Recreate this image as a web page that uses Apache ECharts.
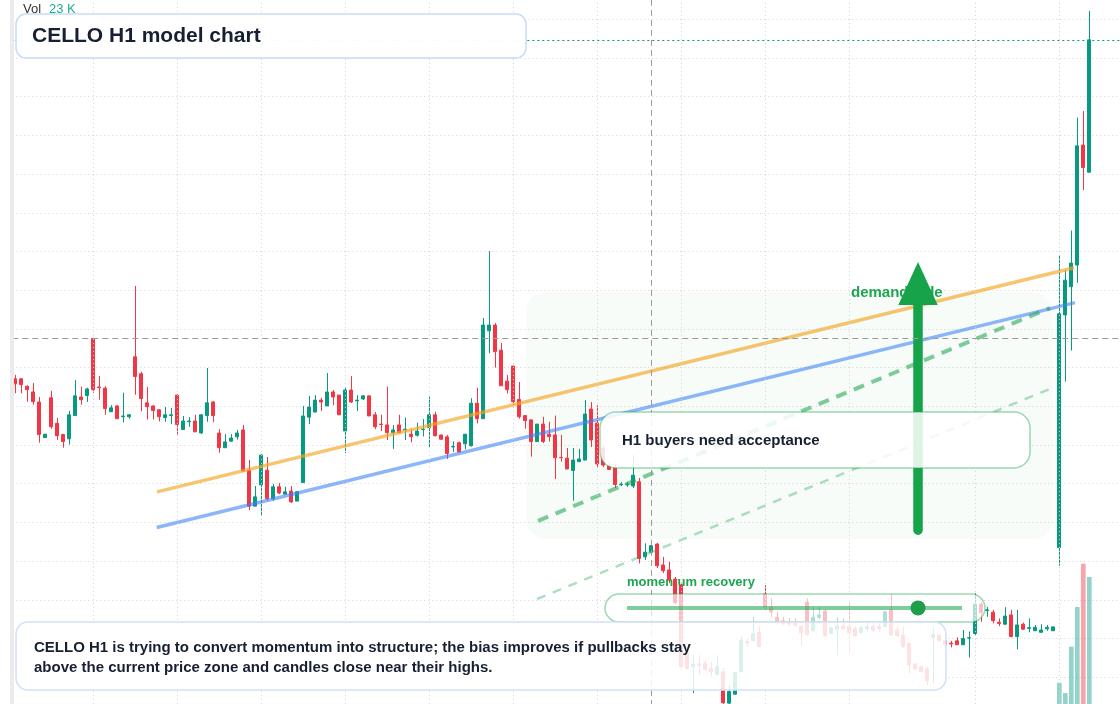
<!DOCTYPE html>
<html><head><meta charset="utf-8">
<script src="https://cdn.jsdelivr.net/npm/echarts@6/dist/echarts.min.js"></script>
<style>html,body{margin:0;padding:0;background:#fff}#chart{width:1120px;height:704px}</style>
</head><body><div id="chart"></div>
<script>
// ---- data (H1 bars) ----
const opens = [
630.71,630.71,630.52,630.37,630.11,629.19,630.22,629.56,629.27,629.16,
629.76,630.24,630.28,631.75,630.50,630.47,629.86,630.01,629.73,629.73,
631.28,630.84,630.09,630.01,629.91,629.71,629.76,630.29,629.40,629.60,
629.62,629.31,629.76,630.11,629.31,628.93,629.10,629.21,629.39,628.35,
627.42,627.97,628.35,627.61,627.92,627.73,627.81,627.55,628.03,629.72,
629.85,630.16,630.01,630.37,630.29,629.36,630.42,630.14,630.19,630.27,
629.78,629.54,629.52,629.32,629.52,629.39,629.28,629.25,629.40,629.45,
629.78,629.26,629.21,628.95,629.06,629.03,628.98,630.08,629.68,631.95,
632.10,631.45,630.65,631.04,630.18,629.76,629.65,629.09,629.54,629.28,
629.26,628.68,628.66,628.34,628.57,628.61,629.93,629.57,628.92,628.46,
628.42,627.97,627.98,627.94,628.05,626.11,626.23,626.44,625.90,625.77,
625.53,625.38,623.66,623.27,623.34,623.36,623.23,623.07,623.14,622.33,
622.56,623.14,623.93,623.94,624.15,625.15,624.81,624.55,624.46,624.41,
624.39,624.31,624.94,624.20,624.55,624.71,624.13,624.24,624.32,624.31,
624.26,624.15,624.26,624.31,624.31,624.31,624.74,624.22,624.09,623.88,
623.34,623.27,623.21,624.02,624.09,623.94,623.88,623.94,623.84,624.01,
624.13,624.89,624.72,624.68,624.42,624.37,624.61,624.05,624.37,624.26,
624.20,624.16,624.25,624.20,626.35,632.36,633.09,633.65,636.75,636.05];
const closes = [
630.58,630.56,630.43,630.12,629.27,629.28,629.47,629.24,629.09,629.78,
630.27,630.17,630.45,630.43,630.48,629.94,629.96,629.68,629.75,629.78,
630.77,630.20,629.99,629.89,629.73,629.78,629.78,629.53,629.62,629.62,
629.34,629.78,630.09,629.76,628.93,629.08,629.18,629.31,628.33,627.42,
627.66,628.74,627.61,627.92,627.76,627.79,627.53,627.79,629.75,629.98,
630.16,630.11,630.37,630.24,629.78,630.42,630.11,630.16,630.27,629.75,
629.47,629.53,629.32,629.39,629.32,629.41,629.22,629.36,629.41,629.78,
629.24,629.15,628.78,628.96,628.82,629.28,630.08,629.68,632.10,632.10,
631.41,630.53,630.43,630.12,629.73,629.63,629.09,629.54,629.09,629.22,
628.67,628.67,628.38,628.61,628.64,629.80,629.13,628.51,628.48,628.37,
627.98,627.99,627.99,628.22,626.07,626.23,626.40,625.88,625.75,625.53,
624.93,623.27,623.23,623.34,623.30,623.20,623.14,623.27,622.34,622.63,
623.12,623.96,623.88,624.12,623.79,624.81,624.69,624.43,624.39,624.37,
624.35,624.15,624.11,624.55,624.61,624.07,624.28,624.32,624.26,624.15,
624.07,624.28,624.31,624.22,624.26,624.69,624.09,624.07,623.79,623.32,
623.21,623.14,622.91,624.11,623.94,623.84,623.86,623.84,624.00,624.02,
624.89,624.67,624.74,624.46,624.39,624.58,624.05,624.35,624.24,624.28,
624.29,624.22,624.29,624.30,632.39,633.26,633.70,636.73,636.17,639.47];
const lows = [
630.34,630.34,630.12,630.04,629.06,629.19,629.42,629.13,628.93,629.01,
629.76,630.04,630.11,630.35,630.17,629.78,629.86,629.68,629.58,629.68,
630.30,629.87,629.66,629.66,629.61,629.60,629.54,629.27,629.40,629.47,
629.34,629.29,629.60,629.59,628.80,628.93,629.09,629.14,628.31,627.32,
627.42,627.17,627.56,627.56,627.73,627.73,627.50,627.55,628.03,629.54,
629.85,629.88,630.01,630.03,629.78,628.79,630.09,629.88,630.16,629.75,
629.41,629.36,629.13,628.90,629.31,629.13,629.07,629.22,629.22,628.94,
629.22,629.13,628.64,628.82,628.82,628.89,628.96,629.56,629.68,631.37,
631.00,630.53,630.33,630.03,629.68,629.42,628.70,629.09,629.05,629.09,
628.12,628.57,628.38,627.56,628.57,628.61,628.95,628.41,628.43,628.35,
627.89,627.94,627.92,627.89,625.94,626.03,626.21,625.82,625.69,625.43,
624.89,623.21,623.19,622.59,623.06,623.16,623.01,623.03,622.31,622.31,
622.56,623.14,623.78,623.94,623.76,624.74,624.56,624.37,624.35,624.32,
624.30,623.81,624.07,624.19,624.50,624.04,624.12,623.57,624.22,623.62,
624.04,624.14,624.18,624.17,624.18,624.30,624.07,624.04,623.76,623.10,
623.19,623.14,622.80,622.84,623.94,623.83,623.77,623.83,623.84,623.51,
624.09,624.43,624.56,624.39,624.32,624.35,624.03,623.72,624.22,624.16,
624.20,624.16,624.20,624.20,625.88,630.64,631.44,633.19,635.59,636.04];
const highs = [
630.81,630.73,630.54,630.60,630.24,629.28,630.40,629.70,629.29,629.88,
630.68,630.51,630.48,631.77,630.78,630.52,630.03,630.03,630.35,629.79,
633.11,630.89,630.50,630.03,629.93,629.98,629.96,630.31,629.75,629.72,
629.78,629.80,630.99,630.14,629.41,629.28,629.28,629.39,629.52,628.61,
627.94,628.77,628.69,627.99,628.02,627.92,627.94,627.81,630.01,630.27,
630.29,630.22,630.86,630.42,630.29,630.50,630.78,630.29,630.29,630.27,
629.85,629.78,630.51,629.52,629.78,629.71,629.41,629.58,629.67,630.25,
629.86,629.26,629.26,629.09,629.09,629.28,630.21,630.48,632.28,634.01,
632.15,631.64,630.81,631.04,630.63,629.76,629.65,629.54,629.73,629.60,
629.76,629.26,628.92,628.92,628.90,630.16,630.11,630.03,629.00,628.56,
628.51,628.04,628.04,628.74,628.15,626.46,626.55,626.47,626.11,625.98,
625.59,625.44,623.79,623.57,623.57,623.44,623.40,623.57,623.24,622.80,
623.12,624.05,623.99,624.56,624.31,625.38,625.04,624.69,624.56,624.53,
624.52,624.35,625.04,624.81,624.81,624.76,624.28,624.55,624.52,624.95,
624.32,624.32,624.41,624.39,624.39,624.69,625.15,624.31,624.31,623.88,
623.36,623.29,623.27,624.28,624.09,623.96,623.94,624.03,624.22,624.18,
625.17,624.94,624.81,624.74,624.52,624.81,624.74,624.74,624.41,624.52,
624.35,624.37,624.35,624.30,633.91,633.52,634.54,637.46,637.63,640.22];
const volumes = [
2100,1800,1500,2200,4200,1300,3900,2600,1900,3400,
3700,1600,1800,4800,2300,3100,1400,2200,1700,1200,
5000,3600,2100,1700,1500,1300,1400,3300,1800,1200,
2100,2900,3800,2500,3200,1900,1400,1600,4100,4700,
2300,4600,3900,2200,1500,1200,2400,1700,5100,3000,
2400,1500,3300,1600,2600,4400,2800,1500,1200,2900,
2300,1500,3000,2000,1700,1800,1400,1500,1300,3400,
2700,1300,2500,1400,1600,2000,4400,2900,5200,5000,
3900,4300,2200,3800,3100,1700,2800,2400,2600,1800,
3700,1500,2100,3200,1300,4000,3100,3600,2200,1200,
2300,900,1000,2400,5000,1800,2000,2900,1600,1900,
2800,4900,3300,2700,1500,1600,1300,1900,3900,2600,
2900,4100,1400,2300,2700,3300,1900,1700,1200,1100,
1000,2100,3500,2600,1300,3100,1700,2600,1400,3200,
1800,1400,1100,1300,1200,2800,3300,1600,2500,3200,
1500,1400,2400,3600,1700,1300,1200,1400,1900,2700,
4300,2400,1300,2000,1400,2200,3100,3300,1500,1600,
1200,1300,1100,1400,8440,7020,13400,18870,24830,23000];
// time-grid bars (session boundaries), crosshair, last price
const timeGridBars = [13,27,41,55,69,83,97,111,125,139,160,174];
const crosshairBar = 106;
const crosshairPrice = 631.77;
// annotation lines [barIndex, price]
const trendOrange = [[23.62,627.79],[176.45,633.58]];
const trendBlue = [[23.57,626.87],[176.62,632.68]];
const trendDash = [[87.12,627.04],[172.45,632.54]];
const trendDashThin = [[86.95,625.02],[172.45,630.45]];
const arrowShaft = [[150.45,626.80],[150.45,632.70]];
const arrowTip = [150.45,633.73];
const arrowBase = 632.62;
const momentumLine = [[101.95,624.79],[157.78,624.79]];
const momentumDot = [150.45,624.79];
const labels = {
  title: 'CELLO H1 model chart',
  vol: 'Vol',
  note: 'H1 buyers need acceptance',
  demand: 'demand side',
  momentum: 'momentum recovery',
  body1: 'CELLO H1 is trying to convert momentum into structure; the bias improves if pullbacks stay',
  body2: 'above the current price zone and candles close near their highs.'
};

const SLOTS = 185;
const cats = [];
for (let i = 0; i < SLOTS; i++) cats.push('H' + (i + 1));
const UP = '#089981', DOWN = '#f23645';
const candleData = opens.map((o, i) => [o, closes[i], lows[i], highs[i]]);
const volData = volumes.map((v, i) => ({
  value: v,
  itemStyle: { color: closes[i] >= opens[i] ? 'rgba(8,153,129,0.43)' : 'rgba(242,54,69,0.45)' }
}));
const lastClose = closes[closes.length - 1];
const lastVol = volumes[volumes.length - 1];
const FONT = '"Liberation Sans", Arial, sans-serif';

const chart = echarts.init(document.getElementById('chart'));
const hiddenAxis = { axisLine: { show: false }, axisTick: { show: false }, axisLabel: { show: false } };
chart.setOption({
  animation: false,
  backgroundColor: '#ffffff',
  grid: [
    { left: 12.3, width: 1110, top: -19.4, height: 735.3, outerBoundsMode: 'none', containLabel: false },
    { left: 12.3, width: 1110, top: 381, height: 363, outerBoundsMode: 'none', containLabel: false }
  ],
  xAxis: [
    Object.assign({ type: 'category', gridIndex: 0, data: cats, boundaryGap: true, splitLine: { show: false } }, hiddenAxis),
    Object.assign({ type: 'value', gridIndex: 0, min: -0.5, max: SLOTS - 0.5, splitLine: { show: false } }, hiddenAxis),
    Object.assign({ type: 'category', gridIndex: 1, data: cats, boundaryGap: true, splitLine: { show: false } }, hiddenAxis)
  ],
  yAxis: [
    Object.assign({ type: 'value', gridIndex: 0, min: 622, max: 641, interval: 1, scale: true,
      splitLine: { show: true, lineStyle: { color: '#d2d2d2', type: [1, 3], width: 1 } } }, hiddenAxis),
    Object.assign({ type: 'value', gridIndex: 1, min: 0, max: 50000, splitLine: { show: false } }, hiddenAxis)
  ],
  series: [
    { type: 'line', xAxisIndex: 1, yAxisIndex: 0, data: [], z: 1, silent: true,
      markLine: { silent: true, symbol: ['none', 'none'], label: { show: false },
        lineStyle: { color: '#d2d2d2', type: [1, 3], width: 1 },
        data: timeGridBars.map(b => ({ xAxis: b })) } },
    { type: 'bar', xAxisIndex: 2, yAxisIndex: 1, data: volData, barWidth: 4.7, z: 1.5, silent: true },
    { type: 'candlestick', xAxisIndex: 0, yAxisIndex: 0, data: candleData, barWidth: 3.7, z: 2,
      itemStyle: { color: UP, color0: DOWN, borderColor: UP, borderColor0: DOWN, borderWidth: 1 } },
    { type: 'line', xAxisIndex: 1, yAxisIndex: 0, data: [], z: 2.5, silent: true,
      markLine: { silent: true, symbol: ['none', 'none'], label: { show: false },
        data: [
          { xAxis: crosshairBar, lineStyle: { color: '#9a9a9a', type: [6, 4], width: 1 } },
          { yAxis: crosshairPrice, lineStyle: { color: '#9a9a9a', type: [6, 4], width: 1 } },
          { yAxis: lastClose, lineStyle: { color: UP, type: [2, 3], width: 1 } }
        ] } },
    { type: 'line', xAxisIndex: 1, yAxisIndex: 0, data: trendOrange, z: 3, symbol: 'none', silent: true,
      lineStyle: { color: 'rgba(245,166,35,0.66)', width: 3.5 } },
    { type: 'line', xAxisIndex: 1, yAxisIndex: 0, data: trendBlue, z: 3, symbol: 'none', silent: true,
      lineStyle: { color: 'rgba(59,130,246,0.58)', width: 3.5 } },
    { type: 'line', xAxisIndex: 1, yAxisIndex: 0, data: trendDash, z: 3, symbol: 'none', silent: true,
      lineStyle: { color: 'rgba(22,163,74,0.55)', width: 4, type: [11, 8] } },
    { type: 'line', xAxisIndex: 1, yAxisIndex: 0, data: trendDashThin, z: 3, symbol: 'none', silent: true,
      lineStyle: { color: 'rgba(22,163,74,0.35)', width: 2.5, type: [9, 8] } },
    { type: 'line', xAxisIndex: 1, yAxisIndex: 0, data: arrowShaft, z: 4, symbol: 'none', silent: true,
      lineStyle: { color: '#16a34a', width: 9.5, cap: 'round' } },
    { type: 'line', xAxisIndex: 1, yAxisIndex: 0, data: momentumLine, z: 12, symbol: 'none', silent: true,
      lineStyle: { color: 'rgba(22,163,74,0.55)', width: 4 } },
    { type: 'scatter', xAxisIndex: 1, yAxisIndex: 0, data: [momentumDot], z: 13, symbolSize: 15, silent: true,
      itemStyle: { color: '#1f9e4a', opacity: 1 } }
  ]
});

const px = (p) => chart.convertToPixel({ xAxisIndex: 1, yAxisIndex: 0 }, p);
const tip = px(arrowTip);
const base = px([arrowTip[0], arrowBase]);
function txt(x, y, s, font, fill, z) {
  return { type: 'text', z: z, silent: true,
    style: { x: x, y: y, text: s, font: font, fill: fill, align: 'left', verticalAlign: 'middle',
      textAlign: 'left', textVerticalAlign: 'middle' } };
}
chart.setOption({
  graphic: [
    { type: 'rect', z: 0, silent: true, shape: { x: 526, y: 292, width: 527, height: 247, r: 20 },
      style: { fill: 'rgba(22,163,74,0.035)' } },
    txt(851, 293, labels.demand, 'bold 15px ' + FONT, '#1fa552', 1),
    txt(627, 582, labels.momentum, 'bold 13px ' + FONT, '#1fa552', 1),
    { type: 'polygon', z: 5, silent: true,
      shape: { points: [[tip[0], tip[1]], [base[0] - 19.7, base[1]], [base[0] + 19.7, base[1]]] },
      style: { fill: '#16a34a' } },
    { type: 'rect', z: 6, silent: true, shape: { x: 10, y: 0, width: 4, height: 704 }, style: { fill: '#ebebeb' } },
    // boxes
    { type: 'rect', z: 10, silent: true, shape: { x: 16, y: 14, width: 510, height: 44, r: 10 },
      style: { fill: 'rgba(255,255,255,0.96)', stroke: '#c9dbf5', lineWidth: 1.5 } },
    { type: 'rect', z: 10, silent: true, shape: { x: 600, y: 412, width: 430, height: 56, r: 16 },
      style: { fill: 'rgba(255,255,255,0.86)', stroke: 'rgba(22,163,74,0.42)', lineWidth: 1.5 } },
    { type: 'rect', z: 10, silent: true, shape: { x: 605, y: 594, width: 380, height: 28, r: 14 },
      style: { fill: 'rgba(255,255,255,0.68)', stroke: 'rgba(22,163,74,0.42)', lineWidth: 1.5 } },
    { type: 'rect', z: 10, silent: true, shape: { x: 16, y: 622, width: 930, height: 68, r: 12 },
      style: { fill: 'rgba(255,255,255,0.85)', stroke: '#d3e1f6', lineWidth: 1.5 } },
    txt(32, 36.5, labels.title, 'bold 21px ' + FONT, '#172033', 11),
    txt(622, 441, labels.note, 'bold 15px ' + FONT, '#172033', 11),
    txt(34, 647.5, labels.body1, 'bold 15px ' + FONT, '#172033', 11),
    txt(34, 667.5, labels.body2, 'bold 15px ' + FONT, '#172033', 11),
    txt(23, 9, labels.vol, '13px ' + FONT, '#333333', 11),
    txt(49, 9, Math.round(lastVol / 1000) + ' K', '13px ' + FONT, '#22ab94', 11)
  ]
});
</script>
</body></html>
